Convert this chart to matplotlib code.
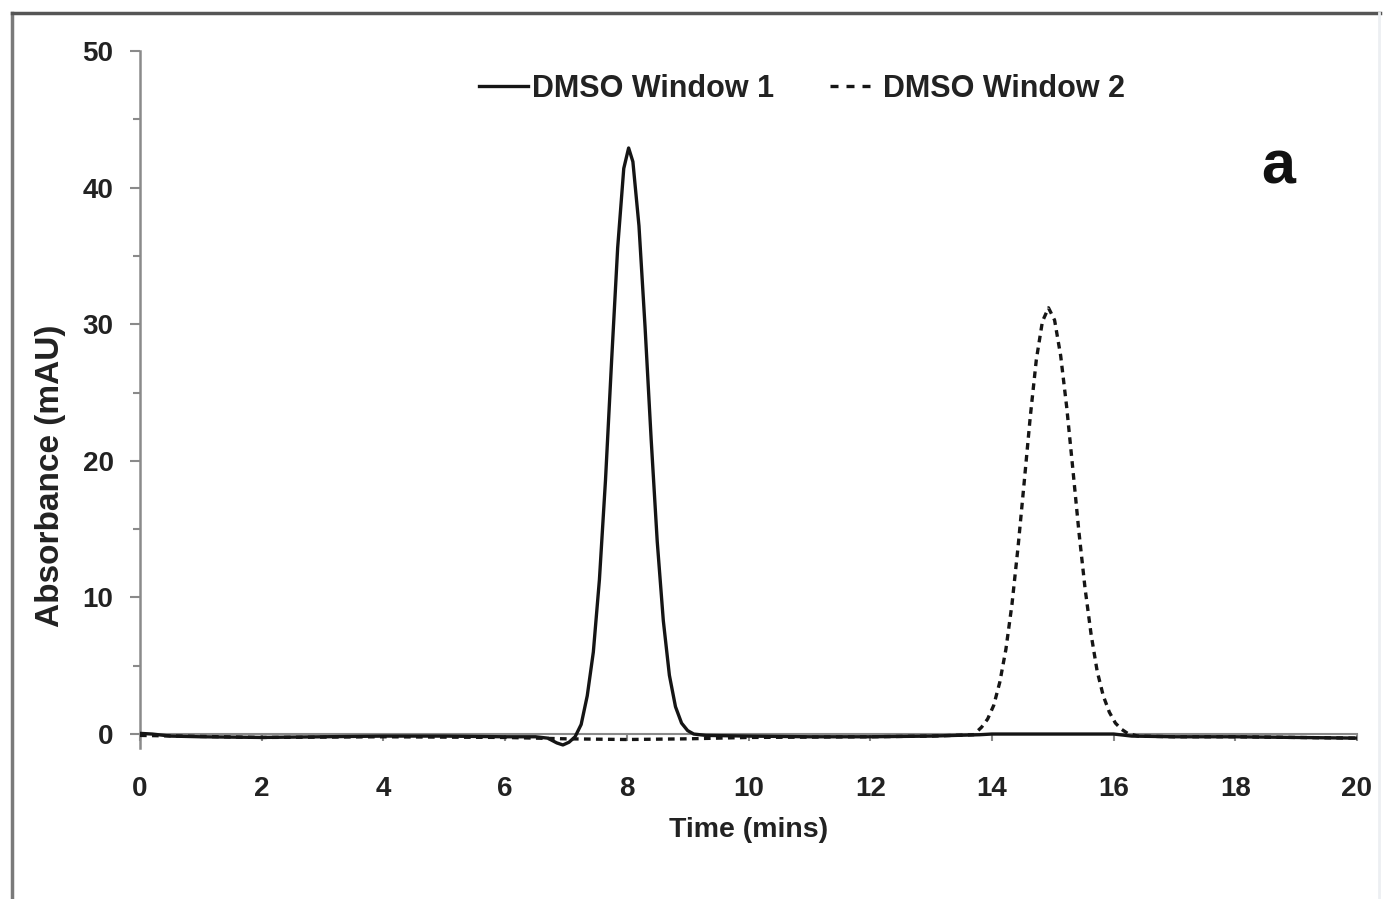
import matplotlib
matplotlib.use("Agg")
import matplotlib.pyplot as plt
from matplotlib.lines import Line2D
from matplotlib.ticker import MultipleLocator

plt.rcParams['font.family'] = ['Liberation Sans', 'DejaVu Sans']

# ---- data ----
time_w1 = [0, 0.2, 0.5, 1, 2, 3, 4, 5, 6, 6.5, 6.7, 6.85, 6.95, 7.05, 7.15,
           7.25, 7.35, 7.45, 7.55, 7.65, 7.75, 7.85, 7.95, 8.03, 8.1, 8.2,
           8.3, 8.4, 8.5, 8.6, 8.7, 8.8, 8.9, 9.0, 9.1, 9.3, 10, 11, 12, 13,
           13.8, 14, 15, 16, 16.3, 17, 18, 19, 20]
abs_w1 = [0.05, 0.0, -0.15, -0.2, -0.25, -0.2, -0.15, -0.15, -0.2, -0.2,
          -0.3, -0.65, -0.8, -0.6, -0.2,
          0.7, 2.8, 6.0, 11.3, 18.6, 27.3, 35.6, 41.4, 42.9, 41.9, 37.2,
          29.8, 21.6, 14.1, 8.3, 4.3, 2.0, 0.8, 0.25, 0.0, -0.1, -0.15, -0.2,
          -0.2, -0.15, -0.05, 0.0, 0.0, 0.0, -0.15, -0.2, -0.2, -0.25, -0.3]

time_w2 = [0, 2, 4, 6, 7, 8, 9, 10, 12, 13, 13.7, 13.83, 13.93, 14.03, 14.13,
           14.23, 14.33, 14.43, 14.53, 14.63, 14.73, 14.83, 14.93, 15.03,
           15.13, 15.23, 15.33, 15.43, 15.53, 15.63, 15.73, 15.83, 15.93,
           16.03, 16.13, 16.23, 16.4, 17, 18, 19, 20]
abs_w2 = [-0.1, -0.25, -0.2, -0.25, -0.35, -0.4, -0.35, -0.25, -0.2, -0.15,
          -0.05, 0.5, 1.1, 2.1, 3.8, 6.2, 9.5, 13.7, 18.4, 23.2, 27.4, 30.2,
          31.2, 30.3, 27.7, 23.9, 19.4, 14.8, 10.7, 7.3, 4.6, 2.8, 1.6, 0.8,
          0.35, 0.05, -0.15, -0.2, -0.2, -0.25, -0.3]

series_labels = ["DMSO Window 1", "DMSO Window 2"]
x_ticks = [0, 2, 4, 6, 8, 10, 12, 14, 16, 18, 20]
y_ticks = [0, 10, 20, 30, 40, 50]
x_label = "Time (mins)"
y_label = "Absorbance (mAU)"
panel_label = "a"

W, H = 1386, 899
fig = plt.figure(figsize=(W / 100, H / 100), dpi=100)
fig.patch.set_facecolor('white')

ax_left, ax_right = 140 / W, 1357 / W
ax_top, ax_bottom = 1 - 51 / H, 1 - 747.7 / H
ax = fig.add_axes([ax_left, ax_bottom, ax_right - ax_left, ax_top - ax_bottom])
ax.set_facecolor('none')

line_col = '#151515'
lw = 2.4
dash = (0, (2.0, 1.6))
ax.plot(time_w2, abs_w2, color=line_col, lw=lw, linestyle=dash,
        label=series_labels[1], zorder=3)
ax.plot(time_w1, abs_w1, color=line_col, lw=lw, label=series_labels[0],
        zorder=4)

ax.set_xlim(0, 20)
ax.set_ylim(-1, 50)

spine_col = '#8a8a8a'
for s in ['top', 'right']:
    ax.spines[s].set_visible(False)
ax.spines['bottom'].set_position(('data', 0))
ax.spines['bottom'].set_color(spine_col)
ax.spines['bottom'].set_linewidth(1.5)
ax.spines['left'].set_color(spine_col)
ax.spines['left'].set_linewidth(1.8)

ax.set_xticks(x_ticks)
ax.set_yticks(y_ticks)
ax.yaxis.set_minor_locator(MultipleLocator(5))
ax.tick_params(axis='x', direction='out', length=5, width=1.5,
               color=spine_col, pad=25, labelsize=20, labelcolor='#222222')
ax.tick_params(axis='y', which='major', direction='out', length=7, width=1.5,
               color=spine_col, pad=12, labelsize=20, labelcolor='#222222')
ax.tick_params(axis='y', which='minor', direction='out', length=5, width=1.5,
               color=spine_col)
for lab in ax.get_xticklabels() + ax.get_yticklabels():
    lab.set_fontweight('bold')

ax.set_xlabel(x_label, fontsize=20.5, fontweight='bold', color='#222222')
ax.xaxis.label.set_verticalalignment('center')
ax.xaxis.set_label_coords(0.5, (747.7 - 830) / 696.7)
ax.set_ylabel(y_label, fontsize=24, fontweight='bold', color='#222222')
ax.yaxis.label.set_verticalalignment('center')
ax.yaxis.set_label_coords((50 - 140) / 1217, (747.7 - 476) / 696.7)

handles = [Line2D([], [], color=line_col, lw=lw),
           Line2D([], [], color=line_col, lw=lw, linestyle=(0, (2.4, 2.4)))]
leg = fig.legend(handles, series_labels, loc='center',
                 bbox_to_anchor=(802 / W, 1 - 89 / H), ncol=2, frameon=False,
                 handlelength=1.6, handletextpad=0.15, columnspacing=1.8,
                 prop={'weight': 'bold', 'size': 22})
for t in leg.get_texts():
    t.set_color('#222222')

fig.text(1278 / W, 1 - 168 / H, panel_label, fontsize=44, fontweight='bold',
         ha='center', va='center', color='#111111')

# outer frame of the figure panel
fig.add_artist(Line2D([12 / W, 12 / W], [-0.02, 1 - 13 / H], transform=fig.transFigure,
                      color='#7a7a7a', lw=2.5))
fig.add_artist(Line2D([12 / W, 1380 / W], [1 - 13 / H, 1 - 13 / H],
                      transform=fig.transFigure, color='#555555', lw=2.5))
fig.add_artist(Line2D([1379 / W, 1379 / W], [-0.02, 1 - 13 / H],
                      transform=fig.transFigure, color='#eceff2', lw=2))

fig.savefig('out.png', dpi=100)
